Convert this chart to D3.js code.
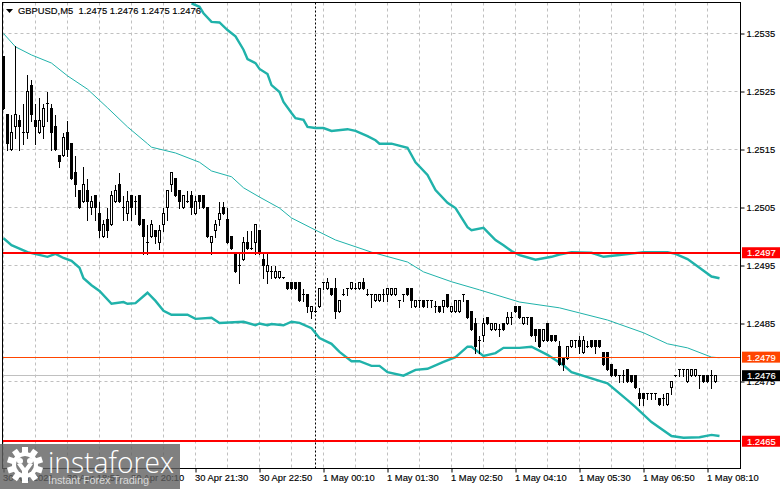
<!DOCTYPE html>
<html>
<head>
<meta charset="utf-8">
<script src="https://cdn.jsdelivr.net/npm/d3@7"></script>
<style>
  html, body { margin: 0; padding: 0; background: #fff; }
  svg { display: block; }
  text { font-family: "Liberation Sans", Arial, sans-serif; font-size: 9.4px; fill: #000; stroke: #000; stroke-width: 0.15px; }
</style>
</head>
<body>
<div id="chart"></div>
<script>
// candle data, one entry per 5 minute bar, ten bars per row
const opens = [
  1.2531,1.2521,1.2515,1.2519,1.2520,1.2518,1.2518,1.2526,1.2520,1.2518,
  1.2519,1.2523,1.2522,1.2519,1.2514,1.2514,1.2518,1.2516,1.2511,1.2508,
  1.2506,1.2508,1.2505,1.2507,1.2504,1.2500,1.2503,1.2502,1.2506,1.2509,
  1.2505,1.2504,1.2507,1.2506,1.2507,1.2503,1.2499,1.2500,1.2501,1.2499,
  1.2502,1.2505,1.2509,1.2510,1.2508,1.2505,1.2506,1.2507,1.2504,1.2507,
  1.2507,1.2505,1.2499,1.2501,1.2503,1.2505,1.2503,1.2500,1.2497,1.2495,
  1.2496,1.2499,1.2498,1.2499,1.2501,1.2496,1.2494,1.2494,1.2493,1.2493,
  1.2493,1.2492,1.2492,1.2492,1.2492,1.2490,1.2490,1.2487,1.2487,1.2488,
  1.2492,1.2491,1.2491,1.2491,1.2487,1.2490,1.2491,1.2491,1.2491,1.2491,
  1.2492,1.2490,1.2490,1.2489,1.2489,1.2490,1.2490,1.2490,1.2490,1.2489,
  1.2490,1.2491,1.2491,1.2488,1.2489,1.2489,1.2489,1.2489,1.2488,1.2488,
  1.2488,1.2490,1.2487,1.2487,1.2487,1.2490,1.2489,1.2487,1.2485,1.2482,
  1.2483,1.2486,1.2484,1.2484,1.2484,1.2485,1.2485,1.2486,1.2488,1.2488,
  1.2485,1.2486,1.2486,1.2484,1.2484,1.2482,1.2485,1.2483,1.2483,1.2481,
  1.2479,1.2479,1.2481,1.2482,1.2482,1.2480,1.2481,1.2482,1.2482,1.2482,
  1.2480,1.2480,1.2478,1.2477,1.2476,1.2476,1.2477,1.2476,1.2476,1.2473,
  1.2473,1.2473,1.2473,1.2473,1.2472,1.2472,1.2471,1.2474,1.2476,1.2477,
  1.2477,1.2475,1.2476,1.2476,1.2476,1.2476,1.2476,1.2476,1.2475];
const highs = [
  1.2531,1.2521,1.2521,1.2533,1.2521,1.2523,1.2528,1.2527,1.2523,1.2524,
  1.2523,1.2525,1.2523,1.2521,1.2514,1.2518,1.2520,1.2516,1.2514,1.2508,
  1.2512,1.2510,1.2507,1.2507,1.2506,1.2503,1.2505,1.2508,1.2509,1.2511,
  1.2507,1.2508,1.2507,1.2507,1.2507,1.2503,1.2502,1.2503,1.2501,1.2502,
  1.2505,1.2508,1.2511,1.2510,1.2508,1.2507,1.2508,1.2508,1.2507,1.2507,
  1.2507,1.2505,1.2500,1.2503,1.2506,1.2506,1.2505,1.2500,1.2497,1.2497,
  1.2500,1.2501,1.2501,1.2502,1.2501,1.2497,1.2497,1.2495,1.2495,1.2494,
  1.2493,1.2492,1.2492,1.2492,1.2492,1.2491,1.2490,1.2488,1.2488,1.2491,
  1.2492,1.2493,1.2491,1.2493,1.2489,1.2491,1.2491,1.2492,1.2492,1.2492,
  1.2493,1.2491,1.2490,1.2490,1.2490,1.2491,1.2491,1.2491,1.2491,1.2489,
  1.2490,1.2491,1.2491,1.2489,1.2489,1.2489,1.2489,1.2489,1.2489,1.2488,
  1.2489,1.2490,1.2488,1.2489,1.2489,1.2490,1.2489,1.2487,1.2486,1.2483,
  1.2486,1.2486,1.2485,1.2485,1.2485,1.2485,1.2487,1.2487,1.2488,1.2488,
  1.2486,1.2486,1.2486,1.2484,1.2484,1.2484,1.2485,1.2483,1.2483,1.2482,
  1.2479,1.2481,1.2482,1.2482,1.2483,1.2483,1.2482,1.2482,1.2482,1.2482,
  1.2480,1.2480,1.2478,1.2477,1.2476,1.2477,1.2477,1.2476,1.2476,1.2474,
  1.2473,1.2473,1.2473,1.2473,1.2472,1.2473,1.2473,1.2475,1.2476,1.2477,
  1.2477,1.2477,1.2477,1.2477,1.2476,1.2476,1.2476,1.2477,1.2476];
const lows = [
  1.2522,1.2515,1.2515,1.2517,1.2515,1.2516,1.2517,1.2520,1.2516,1.2518,
  1.2517,1.2520,1.2515,1.2515,1.2512,1.2514,1.2514,1.2510,1.2507,1.2505,
  1.2506,1.2503,1.2504,1.2503,1.2500,1.2500,1.2500,1.2502,1.2506,1.2506,
  1.2503,1.2503,1.2503,1.2504,1.2502,1.2497,1.2497,1.2500,1.2499,1.2498,
  1.2501,1.2503,1.2508,1.2507,1.2505,1.2505,1.2506,1.2504,1.2504,1.2505,
  1.2505,1.2500,1.2497,1.2500,1.2502,1.2504,1.2499,1.2498,1.2494,1.2492,
  1.2496,1.2498,1.2498,1.2497,1.2497,1.2493,1.2492,1.2493,1.2493,1.2493,
  1.2493,1.2491,1.2491,1.2491,1.2489,1.2489,1.2487,1.2486,1.2487,1.2488,
  1.2491,1.2491,1.2490,1.2486,1.2487,1.2490,1.2490,1.2491,1.2491,1.2491,
  1.2491,1.2490,1.2488,1.2489,1.2489,1.2489,1.2489,1.2490,1.2490,1.2488,
  1.2489,1.2490,1.2488,1.2488,1.2488,1.2488,1.2488,1.2488,1.2487,1.2487,
  1.2487,1.2488,1.2487,1.2487,1.2487,1.2489,1.2486,1.2484,1.2480,1.2480,
  1.2482,1.2485,1.2484,1.2484,1.2483,1.2484,1.2485,1.2485,1.2487,1.2486,
  1.2485,1.2485,1.2483,1.2482,1.2481,1.2482,1.2482,1.2482,1.2482,1.2478,
  1.2477,1.2479,1.2481,1.2481,1.2480,1.2480,1.2481,1.2481,1.2480,1.2481,
  1.2478,1.2477,1.2476,1.2476,1.2475,1.2475,1.2475,1.2475,1.2474,1.2471,
  1.2471,1.2472,1.2472,1.2472,1.2471,1.2471,1.2471,1.2473,1.2476,1.2476,
  1.2476,1.2475,1.2476,1.2476,1.2474,1.2475,1.2475,1.2474,1.2475];
const closes = [
  1.2522,1.2516,1.2518,1.2521,1.2519,1.2518,1.2525,1.2521,1.2519,1.2520,
  1.2522,1.2523,1.2518,1.2515,1.2513,1.2517,1.2515,1.2510,1.2509,1.2505,
  1.2509,1.2506,1.2506,1.2505,1.2501,1.2502,1.2501,1.2507,1.2508,1.2506,
  1.2505,1.2506,1.2505,1.2506,1.2502,1.2500,1.2499,1.2502,1.2500,1.2501,
  1.2504,1.2508,1.2511,1.2507,1.2506,1.2507,1.2506,1.2505,1.2506,1.2506,
  1.2505,1.2500,1.2500,1.2502,1.2504,1.2504,1.2499,1.2498,1.2494,1.2495,
  1.2499,1.2498,1.2498,1.2502,1.2497,1.2495,1.2495,1.2494,1.2494,1.2494,
  1.2493,1.2491,1.2491,1.2491,1.2489,1.2490,1.2488,1.2488,1.2487,1.2491,
  1.2492,1.2492,1.2490,1.2487,1.2489,1.2490,1.2491,1.2492,1.2491,1.2492,
  1.2491,1.2490,1.2490,1.2490,1.2490,1.2490,1.2491,1.2491,1.2491,1.2489,
  1.2490,1.2490,1.2489,1.2489,1.2489,1.2488,1.2489,1.2489,1.2488,1.2487,
  1.2489,1.2488,1.2488,1.2489,1.2489,1.2490,1.2486,1.2484,1.2481,1.2482,
  1.2485,1.2485,1.2485,1.2485,1.2484,1.2484,1.2486,1.2486,1.2487,1.2486,
  1.2486,1.2486,1.2483,1.2483,1.2481,1.2484,1.2482,1.2482,1.2482,1.2478,
  1.2478,1.2481,1.2482,1.2482,1.2481,1.2482,1.2481,1.2481,1.2481,1.2481,
  1.2478,1.2477,1.2476,1.2476,1.2476,1.2476,1.2475,1.2475,1.2474,1.2472,
  1.2472,1.2473,1.2473,1.2473,1.2471,1.2472,1.2473,1.2475,1.2476,1.2477,
  1.2477,1.2477,1.2477,1.2477,1.2476,1.2475,1.2475,1.2476,1.2476];

// bands and middle line, read at the listed bars
const upperBars = [47,49,50,52,54,56,58,60,61,63,64,66,67,69,70,72,73,75,76,78,80,82,86,88,91,93,94,97,101,103,106,108,111,113,116,117,120,123,125,127,129,133,137,139,142,147,150,154,160,166,168,171,174,177,179];
const upperValues = [1.25402,1.25396,1.25385,1.25370,1.25369,1.25356,1.25345,1.25322,1.25306,1.25299,1.25289,1.25280,1.25261,1.25249,1.25232,1.25213,1.25204,1.25201,1.25189,1.25187,1.25187,1.25182,1.25185,1.25182,1.25173,1.25166,1.25160,1.25160,1.25153,1.25128,1.25106,1.25080,1.25058,1.25049,1.25016,1.25011,1.25015,1.24994,1.24985,1.24975,1.24968,1.24960,1.24965,1.24969,1.24973,1.24972,1.24965,1.24968,1.24973,1.24973,1.24970,1.24961,1.24946,1.24931,1.24928];
const middleBars = [0,3,7,12,16,21,26,31,36,37,43,49,52,57,60,64,69,72,78,83,92,101,105,112,119,129,139,151,160,166,171,177,179];
const middleValues = [1.25350,1.25327,1.25313,1.25299,1.25277,1.25254,1.25222,1.25189,1.25160,1.25154,1.25144,1.25128,1.25113,1.25103,1.25084,1.25068,1.25049,1.25032,1.25011,1.24994,1.24973,1.24956,1.24939,1.24922,1.24908,1.24887,1.24877,1.24856,1.24834,1.24815,1.24808,1.24792,1.24791];
const lowerBars = [0,2,6,11,13,15,17,19,20,22,24,27,30,31,33,36,38,40,42,46,48,52,54,60,63,64,66,67,70,72,74,77,79,82,84,87,89,92,94,96,100,103,106,110,113,116,117,120,123,125,129,132,136,140,142,149,151,156,158,162,167,170,174,177,179];
const lowerValues = [1.24997,1.24985,1.24973,1.24965,1.24970,1.24963,1.24958,1.24946,1.24928,1.24916,1.24906,1.24884,1.24887,1.24884,1.24885,1.24903,1.24889,1.24872,1.24865,1.24865,1.24858,1.24860,1.24851,1.24853,1.24847,1.24850,1.24847,1.24849,1.24847,1.24853,1.24851,1.24842,1.24825,1.24815,1.24801,1.24785,1.24785,1.24777,1.24777,1.24766,1.24760,1.24770,1.24772,1.24784,1.24792,1.24810,1.24810,1.24794,1.24799,1.24808,1.24808,1.24810,1.24796,1.24778,1.24766,1.24751,1.24747,1.24718,1.24706,1.24680,1.24656,1.24653,1.24654,1.24658,1.24656];

// axis labels
const priceTicks = [1.2535,1.2525,1.2515,1.2505,1.2495,1.2485,1.2475];
const timeTickBars = [0,16,32,48,64,80,96,112,128,144,160,176];
const timeTickLabels = ["30 Apr 2021","30 Apr 18:50","30 Apr 20:10","30 Apr 21:30","30 Apr 22:50","1 May 00:10","1 May 01:30","1 May 02:50","1 May 04:10","1 May 05:30","1 May 06:50","1 May 08:10"];
const gridBars = d3.range(0, 184, 8);
const separatorBar = 78;

// horizontal levels
const redLevels = [1.24972, 1.24647];
const orangeLevel = 1.24792;
const lastPrice = 1.2476;
const chartTitle = "GBPUSD,M5  1.2475 1.2476 1.2475 1.2476";

const width = 781, height = 489;
const frame = { left: 2.5, top: 2.5, right: 740.5, bottom: 468.5 };
const teal = "#20b2aa";

const svg = d3.select("#chart").append("svg")
  .attr("width", width)
  .attr("height", height);

// 4px per bar, 58px per 0.001
const x = d3.scaleLinear().domain([0, 184]).range([3.5, 739.5]);
const y = d3.scaleLinear().domain([1.2535, 1.2465]).range([33.5, 439.5]);
const crisp = v => Math.floor(v) + 0.5;

svg.append("clipPath").attr("id", "plot")
  .append("rect")
  .attr("x", frame.left).attr("y", frame.top)
  .attr("width", frame.right - frame.left).attr("height", frame.bottom - frame.top);

const plot = svg.append("g").attr("clip-path", "url(#plot)");

// grid
plot.append("g").selectAll("line").data(priceTicks).enter().append("line")
  .attr("x1", frame.left).attr("x2", frame.right)
  .attr("y1", d => crisp(y(d))).attr("y2", d => crisp(y(d)))
  .attr("stroke", "#c0c0c0").attr("stroke-dasharray", "3,3");

plot.append("g").selectAll("line").data(gridBars).enter().append("line")
  .attr("x1", d => x(d)).attr("x2", d => x(d))
  .attr("y1", frame.top).attr("y2", frame.bottom)
  .attr("stroke", "#c0c0c0").attr("stroke-dasharray", "3,3");

// day separator
plot.append("line")
  .attr("x1", x(separatorBar)).attr("x2", x(separatorBar))
  .attr("y1", frame.top).attr("y2", frame.bottom)
  .attr("stroke", "#000").attr("stroke-dasharray", "2,2");

// last price sits behind the candles
plot.append("line")
  .attr("x1", frame.left).attr("x2", frame.right)
  .attr("y1", crisp(y(lastPrice))).attr("y2", crisp(y(lastPrice)))
  .attr("stroke", "#c0c0c0");

// bands
const line = d3.line().x(d => x(d[0])).y(d => y(d[1]));
plot.append("path").attr("d", line(d3.zip(upperBars, upperValues)))
  .attr("fill", "none").attr("stroke", teal).attr("stroke-width", 2.4);
plot.append("path").attr("d", line(d3.zip(lowerBars, lowerValues)))
  .attr("fill", "none").attr("stroke", teal).attr("stroke-width", 2.4);
plot.append("path").attr("d", line(d3.zip(middleBars, middleValues)))
  .attr("fill", "none").attr("stroke", teal).attr("stroke-width", 1);

// candles, filter() renumbers its index so every bar keeps its own values
const bars = opens.map((o, i) => ({ i: i, o: o, h: highs[i], l: lows[i], c: closes[i] }));

const candles = plot.append("g").selectAll("g").data(bars).enter().append("g")
  .attr("shape-rendering", "crispEdges");

candles.append("line")
  .attr("x1", d => x(d.i)).attr("x2", d => x(d.i))
  .attr("y1", d => crisp(y(d.h))).attr("y2", d => crisp(y(d.l)) + 1)
  .attr("stroke", "#000");

candles.filter(d => d.o !== d.c).append("rect")
  .attr("x", d => x(d.i) - 1)
  .attr("width", 2)
  .attr("y", d => crisp(y(Math.max(d.o, d.c))))
  .attr("height", d => crisp(y(Math.min(d.o, d.c))) - crisp(y(Math.max(d.o, d.c))))
  .attr("fill", d => d.c > d.o ? "#fff" : "#000")
  .attr("stroke", "#000");

candles.filter(d => d.o === d.c).append("line")
  .attr("x1", d => x(d.i) - 1.5).attr("x2", d => x(d.i) + 1.5)
  .attr("y1", d => crisp(y(d.o))).attr("y2", d => crisp(y(d.o)))
  .attr("stroke", "#000");

// levels over the candles
plot.append("line")
  .attr("x1", frame.left).attr("x2", frame.right)
  .attr("y1", crisp(y(orangeLevel))).attr("y2", crisp(y(orangeLevel)))
  .attr("stroke", "#ff4500");
plot.selectAll(".red-level").data(redLevels).enter().append("line")
  .attr("class", "red-level")
  .attr("x1", frame.left).attr("x2", frame.right)
  .attr("y1", d => Math.round(y(d))).attr("y2", d => Math.round(y(d)))
  .attr("stroke", "#ff0000").attr("stroke-width", 2);

// axes
const yAxis = svg.append("g")
  .attr("transform", "translate(" + frame.right + ",0)")
  .call(d3.axisRight(y).tickValues(priceTicks).tickFormat(d3.format(".4f")).tickSize(4).tickPadding(2));
yAxis.select(".domain").remove();
yAxis.attr("font-family", null).attr("font-size", null);

const xAxis = svg.append("g")
  .attr("transform", "translate(0," + frame.bottom + ")")
  .call(d3.axisBottom(x).tickValues(timeTickBars).tickFormat((d, i) => timeTickLabels[i]).tickSize(4).tickPadding(2));
xAxis.select(".domain").remove();
xAxis.attr("font-family", null).attr("font-size", null);
xAxis.selectAll("text").attr("text-anchor", "start").attr("dx", -1);

svg.append("rect")
  .attr("x", frame.left).attr("y", frame.top)
  .attr("width", frame.right - frame.left).attr("height", frame.bottom - frame.top)
  .attr("fill", "none").attr("stroke", "#000");

// price tags on the right
const tags = [
  { value: redLevels[0], fill: "#ff0000" },
  { value: orangeLevel, fill: "#ff4500" },
  { value: lastPrice, fill: "#000" },
  { value: redLevels[1], fill: "#ff0000" }
];
const tag = svg.append("g").selectAll("g").data(tags).enter().append("g");
tag.append("rect")
  .attr("x", 742).attr("y", d => y(d.value) - 5.5)
  .attr("width", 38).attr("height", 11)
  .attr("fill", d => d.fill);
tag.append("text")
  .attr("x", 747).attr("y", d => y(d.value) + 3.5)
  .style("fill", "#fff").style("stroke", "#fff")
  .text(d => d3.format(".4f")(d.value));

// title
svg.append("path").attr("d", "M6 9L13 9L9.5 13Z").attr("fill", "#000");
svg.append("text").attr("x", 18).attr("y", 14).attr("xml:space", "preserve").text(chartTitle);

// watermark in the lower left corner
const mark = svg.append("g");
mark.append("rect")
  .attr("x", 0).attr("y", 444).attr("width", 180).attr("height", 45)
  .attr("fill", "#606060").attr("opacity", 0.8);

const gear = mark.append("g").attr("transform", "translate(25,465)").attr("fill", "#fff");
gear.selectAll("rect").data(d3.range(10)).enter().append("rect")
  .attr("x", -3).attr("y", -18).attr("width", 6).attr("height", 8)
  .attr("transform", d => "rotate(" + d * 36 + ")");
gear.append("circle").attr("r", 13);
gear.append("circle").attr("r", 9).attr("fill", "#808080");
gear.append("circle").attr("cx", -5).attr("cy", -4).attr("r", 3);
gear.append("circle").attr("cx", 5).attr("cy", -4).attr("r", 3);
gear.append("path").attr("d", "M-8 -1L-3 -1L0 3L3 -1L8 -1L3 6L3 14L-3 14L-3 6Z");

mark.append("text").attr("x", 48).attr("y", 472.5)
  .attr("textLength", 126).attr("lengthAdjust", "spacingAndGlyphs")
  .style("font-family", "'Open Sans', sans-serif").style("font-weight", 300).style("font-size", "30px")
  .style("fill", "#fff").style("stroke", "none").text("instaforex");
mark.append("text").attr("x", 48).attr("y", 484)
  .attr("textLength", 101)
  .style("font-size", "11px").style("fill", "#d8d8d8").style("stroke", "none").text("Instant Forex Trading");
</script>
</body>
</html>
